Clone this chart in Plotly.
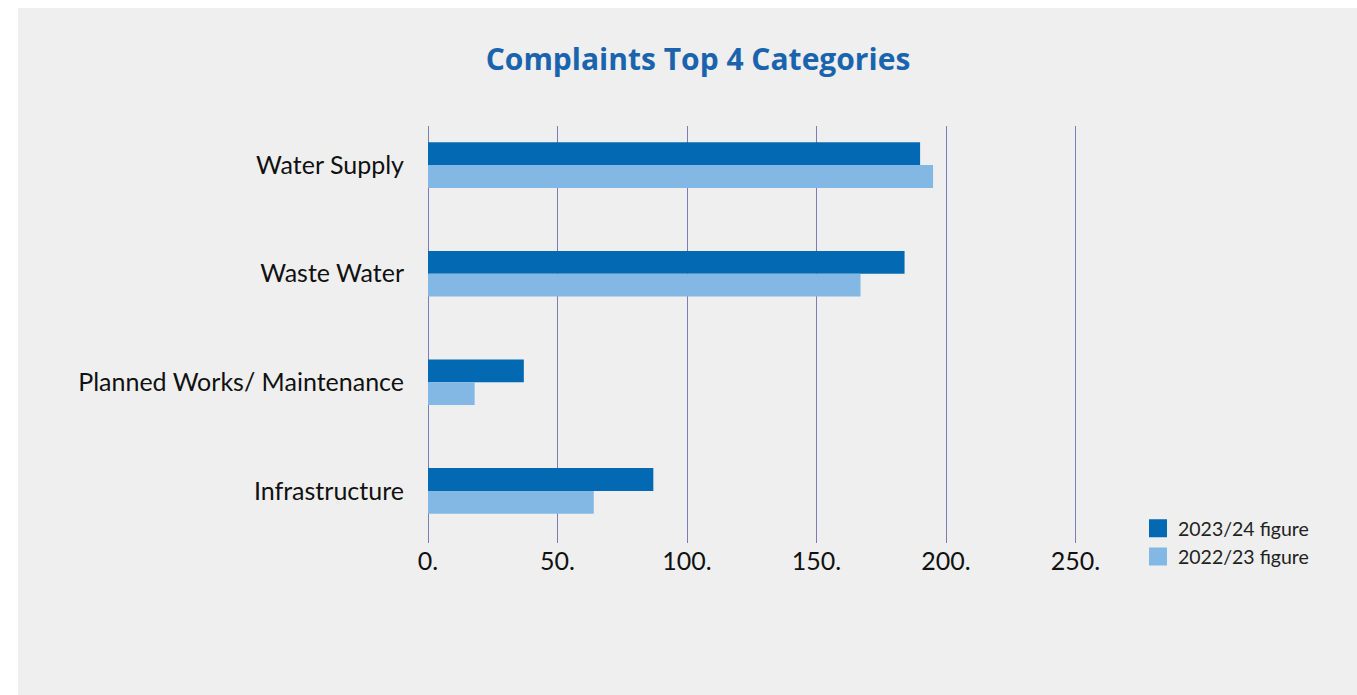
import plotly.graph_objects as go

# Complaint counts for the top four categories
categories = ["Water Supply", "Waste Water", "Planned Works/ Maintenance", "Infrastructure"]
figure_2023_24 = [190, 184, 37, 87]
figure_2022_23 = [195, 167, 18, 64]
series_names = ["2023/24 figure", "2022/23 figure"]

tick_values = [0, 50, 100, 150, 200, 250]
tick_labels = ["0.", "50.", "100.", "150.", "200.", "250."]

DARK = "#0369b2"
LIGHT = "#83b8e5"
PANEL = "#efefef"
GRID = "#7f7bb5"

W, H = 1357, 695
ML, MR, MT, MB = 428, 250, 126, 152
plot_w = W - ML - MR
plot_h = H - MT - MB


def px_x(p):
    return (p - ML) / plot_w


def px_y(p):
    return (H - MB - p) / plot_h


fig = go.Figure()

for vals, color in ((figure_2023_24, DARK), (figure_2022_23, LIGHT)):
    fig.add_trace(go.Bar(
        y=categories, x=vals, orientation="h",
        marker=dict(color=color, line=dict(width=0)),
        showlegend=False, hoverinfo="x+y",
    ))

# Square legend swatches
for name, color in zip(series_names, (DARK, LIGHT)):
    fig.add_trace(go.Scatter(
        x=[None], y=[None], mode="markers", name=name,
        marker=dict(symbol="square", size=16, color=color,
                    line=dict(color=color, width=2)),
    ))

# Light grey panel behind the chart
fig.add_shape(
    type="rect", xref="paper", yref="paper", layer="below",
    x0=px_x(18), x1=px_x(W + 5), y0=px_y(H + 5), y1=px_y(8),
    fillcolor=PANEL, line=dict(width=0),
)

fig.update_layout(
    width=W, height=H,
    margin=dict(l=ML, r=MR, t=MT, b=MB, pad=0),
    paper_bgcolor="white",
    plot_bgcolor="rgba(0,0,0,0)",
    barmode="group", bargap=0.58, bargroupgap=0,
    title=dict(
        text="<b>Complaints Top 4 Categories</b>",
        x=698 / W, xref="container", xanchor="center",
        y=1 - 59 / H, yref="container", yanchor="middle",
        font=dict(family="Open Sans", size=30, color="#1a64ae"),
    ),
    legend=dict(
        x=px_x(1138), y=px_y(509), xanchor="left", yanchor="top",
        xref="paper", yref="paper",
        bgcolor="rgba(0,0,0,0)", borderwidth=0,
        font=dict(family="Lato", size=19.5, color="#222222"),
        itemsizing="trace", tracegroupgap=0,
    ),
    xaxis=dict(
        range=[0, plot_w / 2.59],
        tickvals=tick_values, ticktext=tick_labels,
        showgrid=True, gridcolor=GRID, gridwidth=1.2,
        zeroline=True, zerolinecolor=GRID, zerolinewidth=1.2,
        showline=False, ticks="",
        tickfont=dict(family="Lato", size=25, color="#111111"),
        ticklabelstandoff=1,
        fixedrange=True,
    ),
    yaxis=dict(
        type="category",
        range=[3.48, -0.36],
        showgrid=False, zeroline=False, showline=False, ticks="",
        tickfont=dict(family="Lato", size=25, color="#111111"),
        ticklabelstandoff=23,
        fixedrange=True,
    ),
)

fig.write_html("out.html")
